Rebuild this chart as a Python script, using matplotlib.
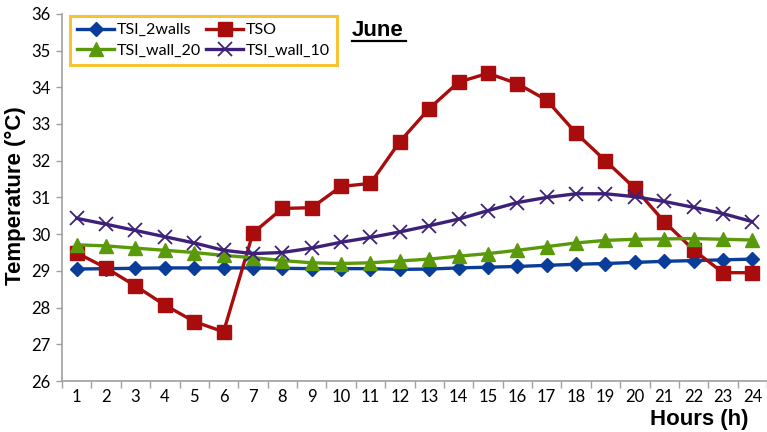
import numpy as np
import matplotlib
matplotlib.use("Agg")
import matplotlib.pyplot as plt
from matplotlib.ticker import FixedLocator

# hourly temperatures, June
hours = list(range(1, 25))
tsi_2walls = [29.05, 29.06, 29.07, 29.08, 29.08, 29.08, 29.08, 29.07, 29.06, 29.06,
              29.06, 29.04, 29.05, 29.08, 29.1, 29.12, 29.15, 29.18, 29.2, 29.23,
              29.26, 29.28, 29.3, 29.32]
tso = [29.49, 29.08, 28.59, 28.07, 27.62, 27.34, 30.03, 30.7, 30.72, 31.3,
       31.38, 32.52, 33.42, 34.14, 34.38, 34.1, 33.65, 32.75, 32.0, 31.25,
       30.34, 29.57, 28.95, 28.95]
tsi_wall_20 = [29.71, 29.68, 29.62, 29.56, 29.5, 29.42, 29.36, 29.28, 29.22, 29.2,
               29.22, 29.27, 29.32, 29.4, 29.47, 29.56, 29.66, 29.76, 29.83, 29.86,
               29.87, 29.88, 29.86, 29.84]
tsi_wall_10 = [30.43, 30.27, 30.1, 29.93, 29.76, 29.56, 29.47, 29.5, 29.62, 29.78,
               29.91, 30.06, 30.23, 30.41, 30.64, 30.86, 31.0, 31.1, 31.1, 31.02,
               30.89, 30.73, 30.56, 30.34]
yticks = list(range(26, 37))

fig = plt.figure(figsize=(7.67, 4.32), dpi=100)
ax = fig.add_axes([62/767, 0.118, 1 - 62/767, 0.968 - 0.118])

l1, = ax.plot(hours, tsi_2walls, color='#0a3d9a', lw=2.4, marker='D', ms=7.5, label='TSI_2walls')
l2, = ax.plot(hours, tso, color='#a80c0c', lw=2.4, marker='s', ms=10, label='TSO')
l3, = ax.plot(hours, tsi_wall_20, color='#5a9a0a', lw=2.4, marker='^', ms=9.5, label='TSI_wall_20')
l4, = ax.plot(hours, tsi_wall_10, color='#3d2178', lw=2.4, marker='x', ms=9.5, mew=1.3,
              label='TSI_wall_10')

ax.set_xlim(0.5, 24.5)
ax.set_ylim(26, 36)
ax.set_yticks(yticks)

# category axis: ticks between hours, labels centred
ax.set_xticks(hours)
ax.xaxis.set_minor_locator(FixedLocator(np.arange(0.5, 25, 1)))
ax.tick_params(axis='x', which='major', length=0, pad=6)
ax.tick_params(axis='x', which='minor', length=5, color='#a0a0a0', width=1)
ax.tick_params(axis='y', length=4, color='#a0a0a0', width=1, pad=4)
for lab in ax.get_xticklabels() + ax.get_yticklabels():
    lab.set_fontfamily('Lato')
    lab.set_fontsize(12)

for side in ['top', 'right']:
    ax.spines[side].set_visible(False)
for side in ['left', 'bottom']:
    ax.spines[side].set_color('#a0a0a0')
    ax.spines[side].set_linewidth(1.2)

fig.text(15/767, 1 - 196/432, 'Temperature (°C)', fontsize=16, fontweight='bold',
         family='Liberation Sans', rotation=90, ha='center', va='center')
fig.text(748/767, 1 - 419/432, 'Hours (h)', fontsize=16, fontweight='bold',
         family='Liberation Sans', ha='right', va='center')

# row order: 2walls, TSO / wall_20, wall_10
leg = ax.legend([l1, l3, l2, l4], ['TSI_2walls', 'TSI_wall_20', 'TSO', 'TSI_wall_10'],
                ncol=2, loc='upper left', bbox_to_anchor=(8/705, 1 - 2/367),
                prop={'family': 'Lato', 'size': 11.5}, frameon=True, fancybox=False,
                handlelength=2.3, handletextpad=0.15, columnspacing=0.35,
                labelspacing=0.4, borderpad=0.45, borderaxespad=0)
leg.get_frame().set_edgecolor('#f4b400')
leg.get_frame().set_linewidth(2.2)

fig.text(352/767, 1 - 30/432, 'June', fontsize=16, fontweight='bold',
         family='Liberation Sans', va='center', ha='left')
fig.add_artist(plt.Line2D([352/767, 406/767], [1 - 41/432, 1 - 41/432],
                          color='black', lw=1.6))

fig.savefig('out.png', dpi=100)
